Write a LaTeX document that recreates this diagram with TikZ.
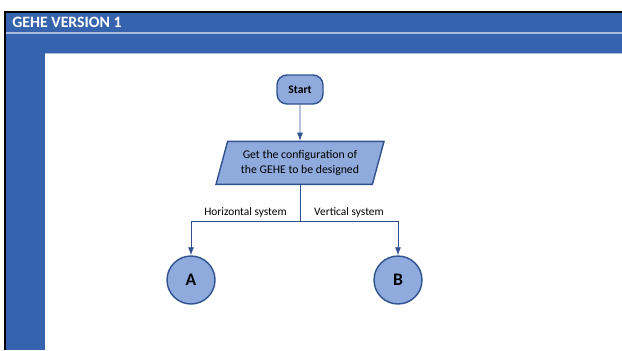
\documentclass[tikz,border=0pt]{standalone}
\usepackage{fontspec}
\setmainfont{Carlito}
\usepackage{tikz}
\usetikzlibrary{positioning, arrows.meta, shapes.geometric}
\definecolor{bandblue}{HTML}{3563AE}
\definecolor{shapefill}{HTML}{8FAADC}
\definecolor{shapeline}{HTML}{2F528F}
\definecolor{sepline}{HTML}{A9BBDA}
\begin{document}
\begin{tikzpicture}[
        terminal/.style={rectangle, rounded corners=0.2cm, draw=shapeline, thick, fill=shapefill, minimum width=0.92cm, minimum height=0.58cm, font=\fontsize{6.6}{7}\selectfont\bfseries},
        io/.style={trapezium, trapezium left angle=74, trapezium right angle=106, trapezium stretches=true, draw=shapeline, thick, fill=shapefill, minimum width=3.38cm, minimum height=0.86cm, align=center, font=\fontsize{6.7}{8.2}\selectfont},
        connector/.style={circle, draw=shapeline, thick, fill=shapefill, minimum size=0.96cm, inner sep=0pt, font=\fontsize{10}{12}\selectfont\bfseries},
        branch/.style={font=\fontsize{6.5}{7}\selectfont, inner sep=2pt},
        arrow/.style={-{Latex[length=1.6mm, width=1.2mm]}, draw=shapeline, line width=0.5pt}
    ]
        \useasboundingbox (0,0) rectangle (12.44,7);

        % Window frame
        \fill[bandblue] (0.12,5.94) rectangle (12.44,6.76);
        \fill[bandblue] (0.12,0) rectangle (0.90,5.94);
        \draw[sepline, line width=0.6pt] (0.12,6.34) -- (12.44,6.34);
        \draw[sepline, line width=0.4pt] (0.90,5.93) -- (12.44,5.93);
        \draw[black, line width=0.6pt] (0.10,0) -- (0.10,6.76) -- (12.44,6.76);
        \node[anchor=west, text=white, font=\fontsize{9}{10}\selectfont\bfseries, inner sep=0pt] (title) at (0.24,6.56) {GEHE VERSION 1};

        % Flowchart
        \node[terminal] (start) at (6.0,5.21) {Start};
        \node[io, below=0.72cm of start] (config) {Get the configuration of\\the GEHE to be designed};
        \coordinate[below=0.72cm of config] (split);
        \node[connector] (A) at (3.82,1.40) {A};
        \node[connector] (B) at (7.96,1.40) {B};

        % Edges
        \draw[arrow] (start) -- (config);
        \draw[draw=shapeline, line width=0.5pt] (config.south) -- (split);
        \draw[arrow] (split) -| node[branch, above, pos=0.25] {Horizontal system} (A);
        \draw[arrow] (split) -| node[branch, above, pos=0.25] {Vertical system} (B);

    \end{tikzpicture}
\end{document}
